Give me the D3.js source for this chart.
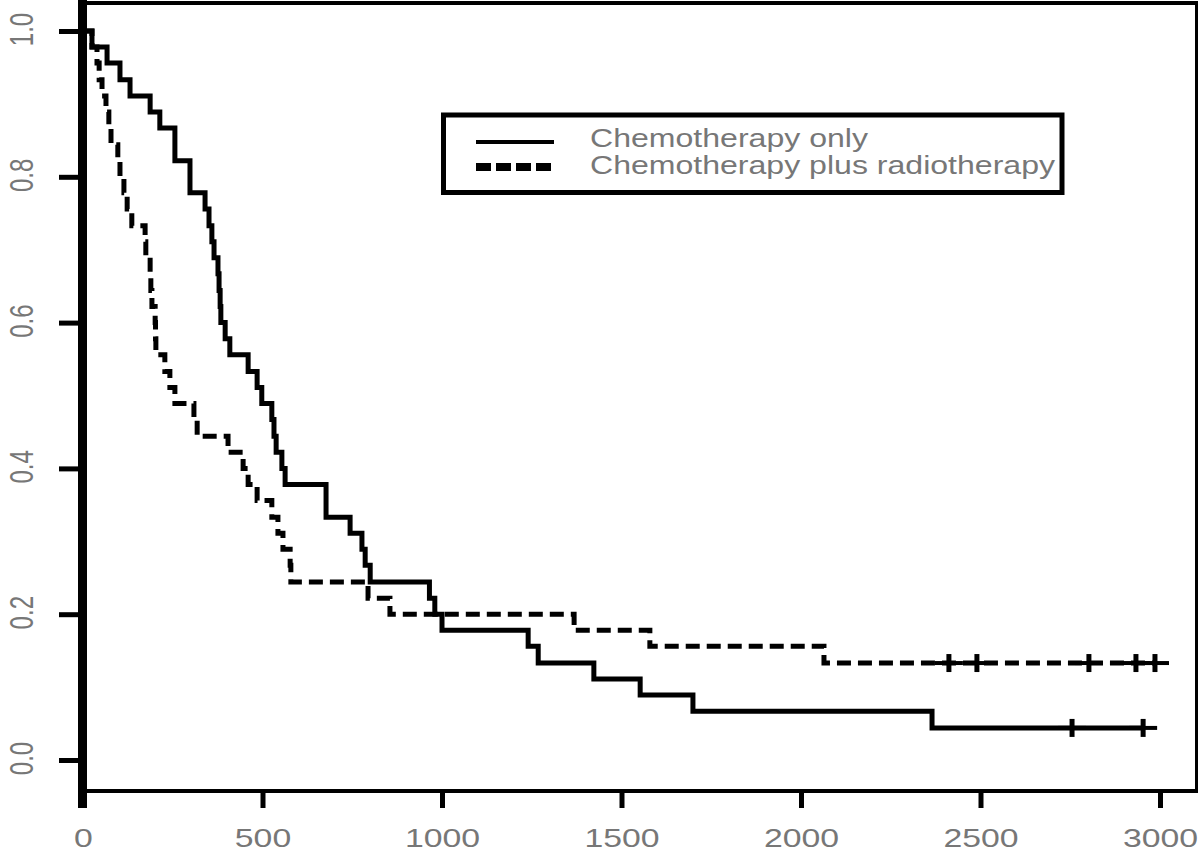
<!DOCTYPE html>
<html>
<head>
<meta charset="utf-8">
<script src="https://cdn.jsdelivr.net/npm/d3@7"></script>
<style>
  body { margin: 0; background: #fff; }
  svg { display: block; }
</style>
</head>
<body>
<div id="chart"></div>
<script>
// survival curves (time in days, survival proportion)
var chemoTimes = [0, 25, 67, 103, 131, 187, 214, 256, 298, 340, 351, 359, 365, 376, 379, 382, 384, 396, 409,
  460, 485, 498, 526, 532, 538, 554, 563, 677, 744, 777, 786, 800, 965, 980, 1000, 1240, 1268, 1423, 1552, 1699, 2365];
var chemoSurv = [1, .978, .956, .933, .911, .889, .867, .822, .778, .756, .733, .711, .689, .667, .644, .622, .600, .578, .556,
  .533, .511, .489, .467, .444, .422, .400, .378, .333, .311, .289, .267, .244, .222, .200, .178, .156, .133, .111, .089, .067, .044];
var chemoCensored = [2755, 2953];

var radioTimes = [0, 25, 39, 45, 53, 64, 72, 78, 97, 103, 114, 123, 136, 173, 175, 187, 189, 192, 201, 202, 203,
  228, 242, 256, 309, 318, 404, 446, 460, 485, 526, 543, 557, 577, 579, 794, 855, 1368, 1579, 2064];
var radioSurv = [1, .978, .956, .933, .911, .889, .867, .844, .822, .800, .778, .756, .733, .711, .689, .667, .644, .622, .600, .578, .556,
  .533, .511, .489, .467, .444, .422, .400, .378, .356, .333, .311, .289, .267, .244, .222, .200, .178, .156, .133];
var radioCensored = [2412, 2490, 2802, 2933, 2986];

var xTicks = [0, 500, 1000, 1500, 2000, 2500, 3000];
var yTicks = [0, 0.2, 0.4, 0.6, 0.8, 1.0];
var legendLabels = ["Chemotherapy only", "Chemotherapy plus radiotherapy"];

var w = 1199, h = 851;
var font = "'Liberation Sans', Arial, sans-serif";
var grey = "#777";

var svg = d3.select("#chart").append("svg")
  .attr("width", w)
  .attr("height", h);

var x = d3.scaleLinear().domain([0, 3000]).range([83, 1160]);
var y = d3.scaleLinear().domain([0, 1]).range([760, 31]);

// frame
svg.append("line").attr("x1", 82.5).attr("x2", 82.5).attr("y1", 0).attr("y2", 808)
  .attr("stroke", "#000").attr("stroke-width", 9);
svg.append("line").attr("x1", 78).attr("x2", 1198).attr("y1", 3).attr("y2", 3)
  .attr("stroke", "#000").attr("stroke-width", 4);
svg.append("line").attr("x1", 1196.5).attr("x2", 1196.5).attr("y1", 1).attr("y2", 793)
  .attr("stroke", "#000").attr("stroke-width", 3);
svg.append("line").attr("x1", 78).attr("x2", 1198).attr("y1", 791).attr("y2", 791)
  .attr("stroke", "#000").attr("stroke-width", 4);

// x axis
var gx = svg.append("g")
  .attr("transform", "translate(0,791)")
  .call(d3.axisBottom(x).tickValues(xTicks).tickSize(17).tickFormat(function(d) { return d; }));
gx.select(".domain").remove();
gx.selectAll(".tick line").attr("stroke", "#000").attr("stroke-width", 5);
gx.selectAll(".tick text")
  .attr("y", 56).attr("dy", null)
  .attr("transform", "scale(1.3,1)")
  .attr("fill", grey)
  .style("font-family", font).style("font-size", "26px");

// y axis
var gy = svg.append("g")
  .attr("transform", "translate(78,0)")
  .call(d3.axisLeft(y).tickValues(yTicks).tickSize(19).tickFormat(d3.format(".1f")));
gy.select(".domain").remove();
gy.selectAll(".tick line").attr("stroke", "#000").attr("stroke-width", 5);
gy.selectAll(".tick text")
  .attr("x", 0).attr("dy", null)
  .attr("text-anchor", "middle")
  .attr("transform", "translate(-45,-2) scale(1.35,1) rotate(-90)")
  .attr("fill", grey)
  .style("font-family", font).style("font-size", "24px");

// curves
var line = d3.line()
  .x(function(d) { return x(d.t); })
  .y(function(d) { return y(d.s); })
  .curve(d3.curveStepAfter);

function makeSeries(times, surv, cens) {
  var pts = times.map(function(t, i) { return {t: t, s: surv[i]}; });
  pts.push({t: d3.max(cens), s: surv[surv.length - 1]});
  return pts;
}

var chemo = makeSeries(chemoTimes, chemoSurv, chemoCensored);
var radio = makeSeries(radioTimes, radioSurv, radioCensored);

svg.append("path")
  .datum(radio)
  .attr("d", line)
  .attr("fill", "none")
  .attr("stroke", "#000")
  .attr("stroke-width", 5)
  .attr("stroke-dasharray", "14,7");

svg.append("path")
  .datum(chemo)
  .attr("d", line)
  .attr("fill", "none")
  .attr("stroke", "#000")
  .attr("stroke-width", 5);

// censor marks
function drawCensor(cens, s) {
  var g = svg.append("g");
  g.selectAll("line.v").data(cens).enter().append("line")
    .attr("class", "v")
    .attr("x1", function(d) { return x(d); }).attr("x2", function(d) { return x(d); })
    .attr("y1", y(s) - 9).attr("y2", y(s) + 9)
    .attr("stroke", "#000").attr("stroke-width", 5);
  g.selectAll("line.h").data(cens).enter().append("line")
    .attr("class", "h")
    .attr("x1", function(d) { return x(d) - 14; }).attr("x2", function(d) { return x(d) + 14; })
    .attr("y1", y(s)).attr("y2", y(s))
    .attr("stroke", "#000").attr("stroke-width", 4);
}
drawCensor(chemoCensored, chemoSurv[chemoSurv.length - 1]);
drawCensor(radioCensored, radioSurv[radioSurv.length - 1]);

// legend
var lg = svg.append("g");
lg.append("rect")
  .attr("x", 443.5).attr("y", 115)
  .attr("width", 618.5).attr("height", 77.5)
  .attr("fill", "#fff")
  .attr("stroke", "#000").attr("stroke-width", 5);
lg.append("line").attr("x1", 476).attr("x2", 554).attr("y1", 142).attr("y2", 142)
  .attr("stroke", "#000").attr("stroke-width", 4);
lg.append("line").attr("x1", 476).attr("x2", 554).attr("y1", 167).attr("y2", 167)
  .attr("stroke", "#000").attr("stroke-width", 8).attr("stroke-dasharray", "15,5");
var textLens = [278, 465];
lg.selectAll("text").data(legendLabels).enter().append("text")
  .attr("x", 590)
  .attr("y", function(d, i) { return 147 + i * 27; })
  .attr("textLength", function(d, i) { return textLens[i]; })
  .attr("lengthAdjust", "spacingAndGlyphs")
  .attr("fill", grey)
  .style("font-family", font)
  .style("font-size", "25px")
  .text(function(d) { return d; });
</script>
</body>
</html>
